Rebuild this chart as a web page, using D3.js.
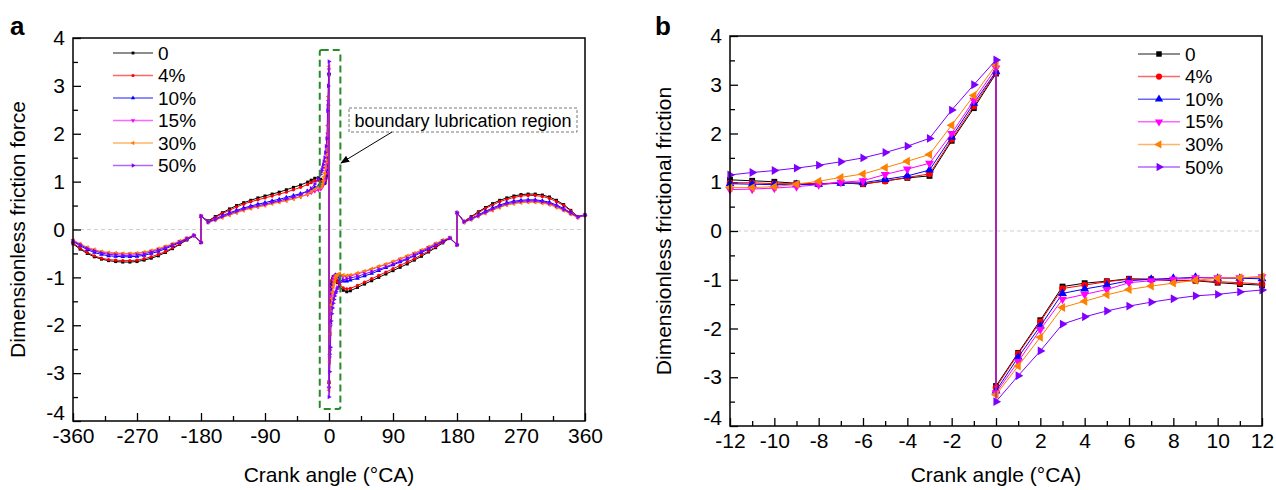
<!DOCTYPE html>
<html>
<head>
<meta charset="utf-8">
<script src="https://cdn.jsdelivr.net/npm/d3@7"></script>
<style>
  body { margin: 0; background: #fff; }
  text { font-family: Arial, "Liberation Sans", sans-serif; fill: #000; }
</style>
</head>
<body>
<div id="chart"></div>
<script>
// series
var seriesNames = ["0", "4%", "10%", "15%", "30%", "50%"];
var colors = ["#000000", "#ff0000", "#0000ff", "#ff00ff", "#ff8000", "#8000ff"];

// panel b : -12..12 °CA (0 appears twice: before / after the sign change)
var angleB = [-12, -11, -10, -9, -8, -7, -6, -5, -4, -3, -2, -1, 0, 0, 1, 2, 3, 4, 5, 6, 7, 8, 9, 10, 11, 12];
var b0  = [1.05, 1.03, 1.01, 0.98, 0.96, 0.99, 0.96, 1.03, 1.09, 1.13, 1.85, 2.52, 3.23, -3.18, -2.50, -1.83, -1.14, -1.07, -1.03, -0.98, -0.99, -1.02, -1.02, -1.06, -1.09, -1.11];
var b4  = [0.99, 0.99, 0.97, 0.97, 0.97, 0.99, 0.97, 1.02, 1.10, 1.17, 1.88, 2.56, 3.25, -3.21, -2.52, -1.86, -1.18, -1.11, -1.04, -0.99, -0.99, -1.01, -1.01, -1.04, -1.06, -1.09];
var b10 = [0.97, 0.96, 0.95, 0.95, 0.96, 0.98, 0.99, 1.06, 1.13, 1.25, 1.93, 2.62, 3.27, -3.28, -2.59, -1.95, -1.28, -1.19, -1.11, -1.02, -0.99, -0.97, -0.95, -0.97, -0.97, -0.98];
var b15 = [0.85, 0.86, 0.88, 0.91, 0.95, 1.00, 1.03, 1.16, 1.27, 1.39, 2.00, 2.68, 3.34, -3.32, -2.68, -2.02, -1.40, -1.30, -1.20, -1.06, -1.02, -0.99, -0.96, -0.96, -0.96, -0.94];
var b30 = [0.89, 0.89, 0.91, 0.96, 1.02, 1.10, 1.17, 1.30, 1.43, 1.57, 2.17, 2.78, 3.41, -3.36, -2.77, -2.18, -1.57, -1.44, -1.31, -1.20, -1.13, -1.07, -1.01, -0.97, -0.96, -0.94];
var b50 = [1.15, 1.20, 1.24, 1.29, 1.35, 1.42, 1.50, 1.61, 1.74, 1.90, 2.48, 3.00, 3.51, -3.50, -2.97, -2.46, -1.91, -1.76, -1.64, -1.54, -1.46, -1.39, -1.33, -1.30, -1.25, -1.21];

// panel a : full cycle, the middle part is the panel b data
var angleALeft = [-360, -350, -340, -330, -320, -310, -300, -290, -280, -270, -260, -250, -240, -230, -220, -210, -200, -190, -180, -180,
  -170, -160, -150, -140, -130, -120, -110, -100, -90, -80, -70, -60, -50, -40, -30, -25, -20, -15];
var angleARight = [15, 20, 25, 30, 40, 50, 60, 70, 80, 90, 100, 110, 120, 130, 140, 150, 160, 170, 180, 180,
  190, 200, 210, 220, 230, 240, 250, 260, 270, 280, 290, 300, 310, 320, 330, 340, 350, 360];

var aLeft0  = [-0.30, -0.41, -0.50, -0.57, -0.62, -0.65, -0.67, -0.68, -0.68, -0.67, -0.64, -0.60, -0.55, -0.48, -0.40, -0.31, -0.22, -0.13, -0.27, 0.28,
  0.18, 0.27, 0.35, 0.43, 0.50, 0.56, 0.61, 0.66, 0.70, 0.74, 0.78, 0.83, 0.88, 0.93, 0.99, 1.03, 1.07, 1.08];
var aRight0 = [-1.20, -1.27, -1.30, -1.28, -1.21, -1.14, -1.07, -1.00, -0.93, -0.86, -0.79, -0.72, -0.64, -0.56, -0.47, -0.38, -0.28, -0.18, -0.32, 0.35,
  0.17, 0.27, 0.37, 0.46, 0.54, 0.61, 0.66, 0.70, 0.73, 0.74, 0.74, 0.72, 0.68, 0.61, 0.52, 0.40, 0.27, 0.31];
var aLeft4  = [-0.28, -0.39, -0.48, -0.55, -0.60, -0.63, -0.64, -0.65, -0.65, -0.64, -0.61, -0.57, -0.52, -0.46, -0.38, -0.30, -0.21, -0.13, -0.27, 0.28,
  0.17, 0.25, 0.33, 0.40, 0.47, 0.53, 0.58, 0.62, 0.66, 0.70, 0.74, 0.78, 0.83, 0.88, 0.94, 0.98, 1.02, 1.03];
var aRight4 = [-1.15, -1.22, -1.24, -1.23, -1.17, -1.10, -1.03, -0.96, -0.89, -0.82, -0.75, -0.68, -0.61, -0.53, -0.45, -0.36, -0.27, -0.18, -0.32, 0.35,
  0.17, 0.26, 0.35, 0.44, 0.51, 0.58, 0.63, 0.67, 0.70, 0.71, 0.71, 0.69, 0.65, 0.58, 0.50, 0.39, 0.27, 0.30];
var aLeft10  = [-0.25, -0.34, -0.42, -0.48, -0.52, -0.55, -0.56, -0.57, -0.57, -0.56, -0.54, -0.50, -0.46, -0.40, -0.34, -0.27, -0.20, -0.13, -0.27, 0.28,
  0.16, 0.22, 0.29, 0.35, 0.40, 0.45, 0.49, 0.53, 0.56, 0.60, 0.63, 0.67, 0.71, 0.75, 0.80, 0.84, 0.88, 0.90];
var aRight10 = [-1.05, -1.08, -1.08, -1.06, -1.02, -0.97, -0.92, -0.86, -0.80, -0.74, -0.68, -0.62, -0.55, -0.48, -0.41, -0.33, -0.25, -0.18, -0.32, 0.35,
  0.16, 0.23, 0.31, 0.38, 0.45, 0.51, 0.56, 0.59, 0.61, 0.62, 0.62, 0.60, 0.57, 0.51, 0.44, 0.35, 0.26, 0.30];
var aLeft15  = [-0.23, -0.31, -0.38, -0.43, -0.47, -0.49, -0.50, -0.51, -0.51, -0.50, -0.48, -0.45, -0.41, -0.36, -0.31, -0.25, -0.19, -0.12, -0.27, 0.28,
  0.15, 0.20, 0.26, 0.31, 0.36, 0.41, 0.45, 0.48, 0.51, 0.55, 0.58, 0.61, 0.65, 0.69, 0.73, 0.77, 0.80, 0.83];
var aRight15 = [-0.97, -0.98, -0.98, -0.97, -0.93, -0.88, -0.83, -0.78, -0.73, -0.68, -0.62, -0.56, -0.50, -0.44, -0.37, -0.30, -0.23, -0.17, -0.32, 0.35,
  0.15, 0.21, 0.28, 0.35, 0.41, 0.47, 0.52, 0.55, 0.57, 0.58, 0.58, 0.56, 0.53, 0.47, 0.41, 0.33, 0.25, 0.30];
var aLeft30  = [-0.22, -0.30, -0.37, -0.42, -0.46, -0.48, -0.49, -0.50, -0.50, -0.49, -0.47, -0.44, -0.40, -0.35, -0.30, -0.24, -0.18, -0.12, -0.27, 0.28,
  0.15, 0.20, 0.25, 0.30, 0.35, 0.40, 0.44, 0.47, 0.50, 0.54, 0.57, 0.60, 0.64, 0.68, 0.74, 0.79, 0.84, 0.88];
var aRight30 = [-0.92, -0.95, -0.96, -0.95, -0.91, -0.87, -0.82, -0.77, -0.72, -0.67, -0.61, -0.55, -0.49, -0.43, -0.36, -0.29, -0.22, -0.17, -0.32, 0.35,
  0.15, 0.21, 0.28, 0.34, 0.40, 0.46, 0.51, 0.54, 0.56, 0.57, 0.57, 0.55, 0.52, 0.46, 0.40, 0.32, 0.25, 0.30];
var aLeft50  = [-0.24, -0.32, -0.40, -0.45, -0.49, -0.52, -0.53, -0.54, -0.54, -0.53, -0.51, -0.47, -0.43, -0.38, -0.32, -0.26, -0.19, -0.12, -0.27, 0.28,
  0.15, 0.21, 0.27, 0.33, 0.38, 0.43, 0.47, 0.50, 0.53, 0.57, 0.60, 0.64, 0.68, 0.73, 0.80, 0.86, 0.95, 1.05];
var aRight50 = [-1.10, -1.05, -1.03, -1.01, -0.98, -0.93, -0.88, -0.83, -0.78, -0.72, -0.66, -0.60, -0.53, -0.46, -0.39, -0.32, -0.24, -0.18, -0.32, 0.35,
  0.16, 0.22, 0.29, 0.36, 0.43, 0.49, 0.54, 0.57, 0.59, 0.60, 0.60, 0.58, 0.55, 0.49, 0.42, 0.34, 0.26, 0.30];

var yTicks = [-4, -3, -2, -1, 0, 1, 2, 3, 4];
var xTicksA = [-360, -270, -180, -90, 0, 90, 180, 270, 360];
var xTicksB = [-12, -10, -8, -6, -4, -2, 0, 2, 4, 6, 8, 10, 12];

var angleA = angleALeft.concat(angleB, angleARight);
var dataA = [
  aLeft0.concat(b0, aRight0),
  aLeft4.concat(b4, aRight4),
  aLeft10.concat(b10, aRight10),
  aLeft15.concat(b15, aRight15),
  aLeft30.concat(b30, aRight30),
  aLeft50.concat(b50, aRight50)
];
var dataB = [b0, b4, b10, b15, b30, b50];

var W = 1276, H = 490;
var svg = d3.select("#chart").append("svg").attr("width", W).attr("height", H);
svg.append("rect").attr("width", W).attr("height", H).attr("fill", "#fff");

// marker shapes: square, circle, up, down, left, right
var symTypes = [d3.symbolSquare, d3.symbolCircle, d3.symbolTriangle, d3.symbolTriangle, d3.symbolTriangle, d3.symbolTriangle];
var symRot = [0, 0, 0, 180, -90, 90];
var plainFmt = function (d) { return String(d); };   // hyphen minus like the original

function drawPanel(opt) {
  var x = d3.scaleLinear().domain(opt.xDomain).range([opt.left, opt.right]);
  var y = d3.scaleLinear().domain([-4, 4]).range([opt.bottom, opt.top]);
  var g = svg.append("g");

  // zero line
  g.append("line")
    .attr("x1", opt.left).attr("x2", opt.right)
    .attr("y1", y(0)).attr("y2", y(0))
    .attr("stroke", "#cfcfcf").attr("stroke-dasharray", "4,3");

  // minor ticks
  g.append("g").attr("transform", "translate(0," + opt.bottom + ")")
    .call(d3.axisBottom(x).tickValues(opt.xMinor).tickSize(-5).tickFormat(""))
    .call(function (s) { s.select(".domain").remove(); });
  g.append("g").attr("transform", "translate(" + opt.left + ",0)")
    .call(d3.axisLeft(y).tickValues(d3.range(-3.5, 4, 1)).tickSize(-5).tickFormat(""))
    .call(function (s) { s.select(".domain").remove(); });

  // major ticks
  var xa = g.append("g").attr("transform", "translate(0," + opt.bottom + ")")
    .call(d3.axisBottom(x).tickValues(opt.xTicks).tickSize(-8).tickPadding(7).tickFormat(plainFmt));
  var ya = g.append("g").attr("transform", "translate(" + opt.left + ",0)")
    .call(d3.axisLeft(y).tickValues(yTicks).tickSize(-8).tickPadding(8).tickFormat(plainFmt));
  [xa, ya].forEach(function (a) {
    a.select(".domain").remove();
    a.selectAll("text").style("font-size", "21px").attr("fill", "#000");
  });
  // lowest y label sits a little higher, as in the original
  ya.selectAll(".tick text").filter(function (d) { return d === -4; }).attr("dy", "-0.08em");
  g.selectAll(".tick line").attr("stroke", "#000").attr("stroke-width", 1.3);

  // data
  var line = d3.line().x(function (d) { return x(d[0]); }).y(function (d) { return y(d[1]); });
  opt.data.forEach(function (vals, si) {
    var pts = vals.map(function (v, i) { return [opt.xs[i], v]; });
    g.append("path").datum(pts)
      .attr("fill", "none").attr("stroke", colors[si]).attr("stroke-width", 1)
      .attr("d", line);
    var sym = d3.symbol().type(symTypes[si]).size(opt.symSize);
    g.selectAll(null).data(pts).enter().append("path")
      .attr("d", sym)
      .attr("transform", function (d) { return "translate(" + x(d[0]) + "," + y(d[1]) + ") rotate(" + symRot[si] + ")"; })
      .attr("fill", colors[si]);
  });

  // frame
  g.append("rect")
    .attr("x", opt.left).attr("y", opt.top)
    .attr("width", opt.right - opt.left).attr("height", opt.bottom - opt.top)
    .attr("fill", "none").attr("stroke", "#000").attr("stroke-width", 1.5);

  // titles
  g.append("text").attr("x", (opt.left + opt.right) / 2).attr("y", 482)
    .attr("text-anchor", "middle").style("font-size", "21px").text("Crank angle (°CA)");
  g.append("text").attr("transform", "translate(" + opt.yTitleX + "," + ((opt.top + opt.bottom) / 2) + ") rotate(-90)")
    .attr("text-anchor", "middle").style("font-size", "21px").text(opt.yTitle);
  g.append("text").attr("x", opt.tagX).attr("y", 35)
    .style("font-size", "26px").style("font-weight", "bold").text(opt.tag);

  // legend
  seriesNames.forEach(function (name, si) {
    var ly = opt.legY + si * opt.legStep;
    g.append("line").attr("x1", opt.legX).attr("x2", opt.legX + opt.legLen)
      .attr("y1", ly).attr("y2", ly)
      .attr("stroke", colors[si]).attr("stroke-opacity", 0.6).attr("stroke-width", 1.5);
    g.append("path")
      .attr("d", d3.symbol().type(symTypes[si]).size(opt.legSym))
      .attr("transform", "translate(" + (opt.legX + opt.legLen / 2) + "," + ly + ") rotate(" + symRot[si] + ")")
      .attr("fill", colors[si]);
    g.append("text").attr("x", opt.legX + opt.legLen + 5).attr("y", ly)
      .attr("dy", "0.35em").style("font-size", "19px").text(name);
  });

  return { g: g, x: x, y: y };
}

var pa = drawPanel({
  left: 73, right: 585, top: 38, bottom: 421,
  xDomain: [-360, 360], xTicks: xTicksA, xMinor: d3.range(-315, 360, 90),
  xs: angleA, data: dataA, symSize: 9,
  yTitle: "Dimensionless friction force", yTitleX: 25, tag: "a", tagX: 10,
  legX: 113, legLen: 40, legY: 53, legStep: 22.5, legSym: 8
});

var pb = drawPanel({
  left: 730, right: 1262, top: 36, bottom: 426,
  xDomain: [-12, 12], xTicks: xTicksB, xMinor: d3.range(-11, 12, 2),
  xs: angleB, data: dataB, symSize: 34,
  yTitle: "Dimensionless frictional friction", yTitleX: 671, tag: "b", tagX: 655,
  legX: 1138, legLen: 42, legY: 54, legStep: 22.6, legSym: 30
});

// boundary lubrication annotation (panel a)
var ga = pa.g;
ga.append("rect")
  .attr("x", pa.x(-13)).attr("y", pa.y(3.75))
  .attr("width", pa.x(16) - pa.x(-13)).attr("height", pa.y(-3.75) - pa.y(3.75))
  .attr("rx", 2)
  .attr("fill", "none").attr("stroke", "#2a8a2a").attr("stroke-width", 2).attr("stroke-dasharray", "7,4");
ga.append("rect")
  .attr("x", 349).attr("y", 108).attr("width", 228).attr("height", 24)
  .attr("fill", "#fff").attr("stroke", "#777").attr("stroke-dasharray", "3,2");
ga.append("text").attr("x", 463).attr("y", 127).attr("text-anchor", "middle")
  .style("font-size", "18px").text("boundary lubrication region");
svg.append("defs").append("marker")
  .attr("id", "arr").attr("viewBox", "0 0 10 10").attr("refX", 9).attr("refY", 5)
  .attr("markerWidth", 9).attr("markerHeight", 9).attr("orient", "auto-start-reverse")
  .append("path").attr("d", "M0,1 L10,5 L0,9 Z").attr("fill", "#000");
ga.append("line").attr("x1", 392).attr("y1", 132).attr("x2", 341).attr("y2", 163)
  .attr("stroke", "#000").attr("stroke-width", 1).attr("marker-end", "url(#arr)");
</script>
</body>
</html>
